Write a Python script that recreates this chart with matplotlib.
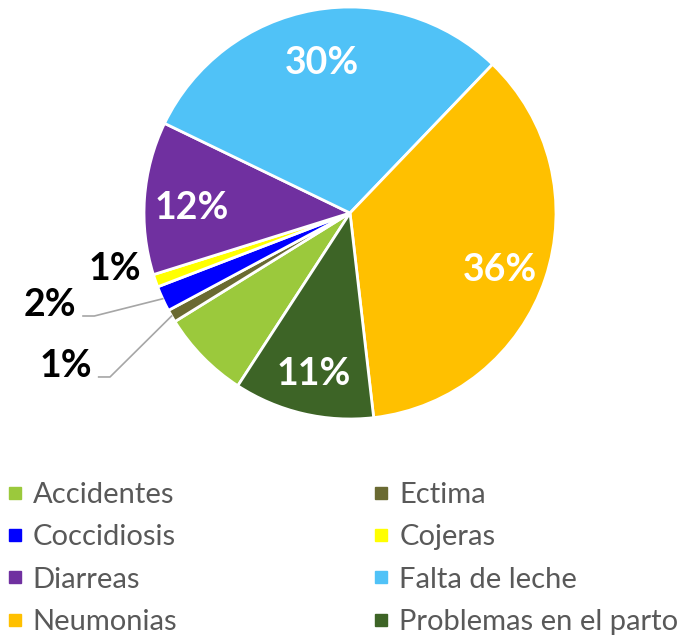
import matplotlib
matplotlib.use("Agg")
import matplotlib.pyplot as plt
from matplotlib.lines import Line2D
import numpy as np

plt.rcParams['font.family'] = ['Lato', 'DejaVu Sans']

# Datos
causas = ['Accidentes', 'Ectima', 'Coccidiosis', 'Cojeras',
          'Diarreas', 'Falta de leche', 'Neumonias', 'Problemas en el parto']
porcentajes = [7, 1, 2, 1, 12, 30, 36, 11]
colores = ['#9BC93C', '#6A6A32', '#0000FF', '#FFFF00',
           '#7030A0', '#50C2F7', '#FFC000', '#3D6426']

# etiquetas: None = sin etiqueta, 'in' = dentro en blanco, 'out' = fuera en negro
modo_etiqueta = [None, 'out', 'out', 'out', 'in', 'in', 'in', 'in']
pos_fuera = {1: (-1.38, -0.745), 2: (-1.455, -0.445), 3: (-1.14, -0.27)}
con_linea = {1: (-1.22, -0.796), 2: (-1.296, -0.50)}

fig = plt.figure(figsize=(6.88, 6.39), dpi=100)
ax = fig.add_axes([144 / 688, 1 - 419 / 639, 412 / 688, 412 / 639])

wedges, _ = ax.pie(porcentajes, colors=colores, startangle=-123, counterclock=False,
                   radius=1, wedgeprops=dict(edgecolor='white', linewidth=2))
ax.set_xlim(-1, 1)
ax.set_ylim(-1, 1)
ax.set_aspect('equal')
ax.axis('off')

for i, (w, p) in enumerate(zip(wedges, porcentajes)):
    ang = np.deg2rad((w.theta1 + w.theta2) / 2)
    if modo_etiqueta[i] == 'in':
        r = 0.77
        ax.text(r * np.cos(ang), r * np.sin(ang) - 0.03, f'{p}%', ha='center', va='center',
                color='white', fontsize=27, fontweight='bold')
    elif modo_etiqueta[i] == 'out':
        tx, ty = pos_fuera[i]
        ax.text(tx, ty, f'{p}%', ha='center', va='center', color='black',
                fontsize=27, fontweight='bold', clip_on=False)
        if i in con_linea:
            lx, ly = con_linea[i]
            ex, ey = 1.0 * np.cos(ang), 1.0 * np.sin(ang)
            ax.plot([lx, lx + 0.055, ex], [ly, ly, ey], color='#A6A6A6',
                    linewidth=1.2, clip_on=False)

# Leyenda en orden por filas (2 columnas)
orden = [0, 2, 4, 6, 1, 3, 5, 7]
handles = [Line2D([], [], marker='s', linestyle='none', markersize=8.5,
                  markerfacecolor=colores[k], markeredgecolor=colores[k]) for k in orden]
labels = [causas[k] for k in orden]
fig.legend(handles, labels, ncol=2, loc='upper left',
           bbox_to_anchor=(8 / 688, 1 - 482 / 639), frameon=False,
           fontsize=21, labelcolor='#595959', handlelength=0.45, handletextpad=0.4,
           columnspacing=6.76, labelspacing=0.56, borderpad=0, borderaxespad=0)

fig.savefig('out.png', dpi=100)
